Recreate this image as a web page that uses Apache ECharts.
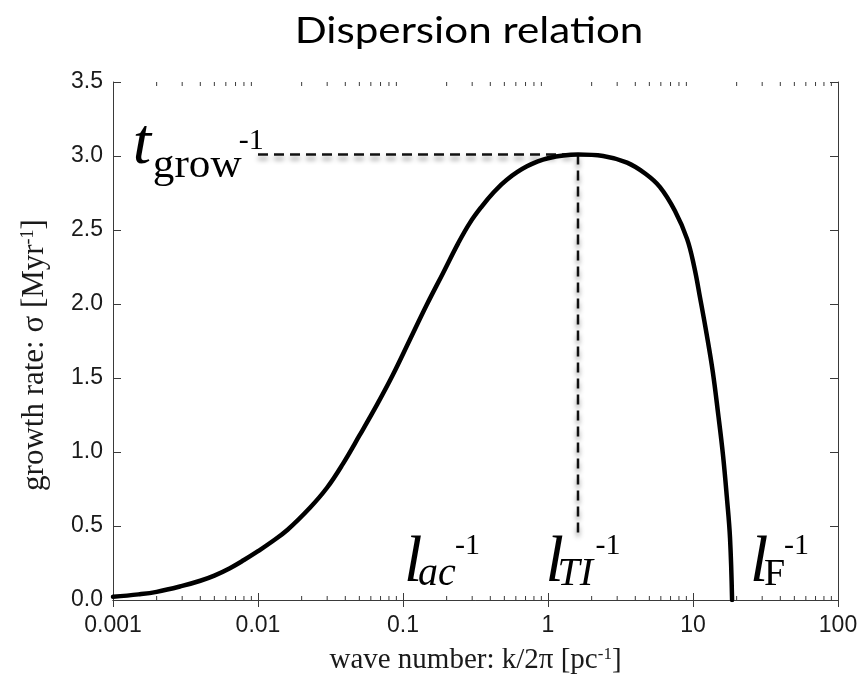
<!DOCTYPE html>
<html>
<head>
<meta charset="utf-8">
<script src="https://cdn.jsdelivr.net/npm/echarts@6/dist/echarts.min.js"></script>
<style>
  html, body { margin: 0; padding: 0; background: #ffffff; }
  #chart { width: 866px; height: 680px; }
</style>
</head>
<body>
<div id="chart"></div>
<script>
// Chart text
const titleText = 'Dispersion relation';

// Axis ticks
const xTickValues = [0.001, 0.01, 0.1, 1, 10, 100];
const xTickLabels = ['0.001', '0.01', '0.1', '1', '10', '100'];
const yTickValues = [0, 0.5, 1, 1.5, 2, 2.5, 3, 3.5];
const yTickLabels = ['0.0', '0.5', '1.0', '1.5', '2.0', '2.5', '3.0', '3.5'];

// Dispersion curve: wave number k/2π [pc^-1] and growth rate σ [Myr^-1]
const waveNumber = [
  0.001, 0.0015, 0.002, 0.003, 0.004, 0.005, 0.0064, 0.008, 0.01, 0.0121,
  0.016, 0.0229, 0.03, 0.0385, 0.05, 0.0662, 0.085, 0.1117, 0.145, 0.189,
  0.24, 0.29, 0.35, 0.418, 0.52, 0.716, 1.0, 1.61, 2.4, 3.51,
  4.7, 5.92, 7.5, 9.1, 10.2, 11.2, 12.4, 13.7, 14.9, 16.1,
  17.1, 18.0, 18.6
];
const growthRate = [
  0.022, 0.038, 0.055, 0.095, 0.13, 0.165, 0.215, 0.27, 0.33, 0.385,
  0.475, 0.625, 0.76, 0.92, 1.11, 1.32, 1.52, 1.76, 1.99, 2.21,
  2.41, 2.55, 2.66, 2.75, 2.84, 2.93, 2.985, 3.01, 3.0, 2.955,
  2.88, 2.79, 2.63, 2.44, 2.25, 2.04, 1.80, 1.54, 1.26, 0.98,
  0.70, 0.42, 0.0
];

// Fastest-growing mode and its guide lines
const peakWaveNumber = 1.61;
const peakRate = 3.01;
const guideStartK = 0.01;
const guideEndRate = 0.42;

// Minor ticks of the log axis (2..9 within each decade)
const minorTickValues = [];
for (let e = -3; e <= 1; e++) {
  for (let m = 2; m <= 9; m++) minorTickValues.push(+(m * Math.pow(10, e)).toPrecision(3));
}

const serif = '"Liberation Serif", "Times New Roman", serif';
const sans = '"Liberation Sans", Arial, sans-serif';
const axisColor = '#3a3a3a';

const chart = echarts.init(document.getElementById('chart'), null, { renderer: 'canvas' });

const curveData = waveNumber.map((k, i) => [k, growthRate[i]]);

function xLabel(v) {
  const i = xTickValues.findIndex(t => Math.abs(Math.log10(t) - Math.log10(v)) < 1e-6);
  return i >= 0 ? xTickLabels[i] : '';
}
function yLabel(v) {
  const i = yTickValues.findIndex(t => Math.abs(t - v) < 1e-6);
  return i >= 0 ? yTickLabels[i] : '';
}

function nameRich(size) {
  return {
    a: { fontFamily: serif, fontSize: size, color: '#1a1a1a' },
    s: { fontFamily: serif, fontSize: Math.round(size * 0.57), color: '#1a1a1a', verticalAlign: 'top' }
  };
}

const option = {
  backgroundColor: '#ffffff',
  animation: false,
  grid: { left: 113, right: 28, top: 82, bottom: 78, containLabel: false },
  xAxis: [
    {
      type: 'log', logBase: 10, min: 0.001, max: 100, position: 'bottom',
      axisLine: { show: true, lineStyle: { color: axisColor, width: 1 } },
      axisTick: { show: true, inside: true, length: 7, lineStyle: { color: axisColor } },
      axisLabel: { formatter: xLabel, fontFamily: sans, fontSize: 23, color: '#1a1a1a', margin: 14 },
      splitLine: { show: false },
      name: '{a|wave number: k/2π [pc}{s|-1}{a|]}',
      nameLocation: 'middle', nameGap: 46,
      nameTextStyle: { rich: nameRich(29) }
    },
    {
      type: 'log', logBase: 10, min: 0.001, max: 100, position: 'top',
      axisLine: { show: true, lineStyle: { color: axisColor, width: 1 } },
      axisTick: { show: true, inside: true, length: 7, lineStyle: { color: axisColor } },
      axisLabel: { show: false },
      splitLine: { show: false }
    }
  ],
  yAxis: [
    {
      type: 'value', min: 0, max: 3.5, interval: 0.5, position: 'left',
      axisLine: { show: true, lineStyle: { color: axisColor, width: 1 } },
      axisTick: { show: true, inside: true, length: 8, lineStyle: { color: axisColor } },
      axisLabel: { formatter: yLabel, fontFamily: sans, fontSize: 23, color: '#1a1a1a', margin: 10 },
      splitLine: { show: false },
      name: '{a|growth rate: σ [Myr}{s|-1}{a|]}',
      nameLocation: 'middle', nameGap: 63, nameRotate: 90,
      nameTextStyle: { rich: nameRich(31), padding: [0, 28, 0, 0] }
    },
    {
      type: 'value', min: 0, max: 3.5, interval: 0.5, position: 'right',
      axisLine: { show: true, lineStyle: { color: axisColor, width: 1 } },
      axisTick: { show: true, inside: true, length: 8, lineStyle: { color: axisColor } },
      axisLabel: { show: false },
      splitLine: { show: false }
    }
  ],
  series: [
    {
      name: 'minor ticks',
      type: 'custom',
      xAxisIndex: 0, yAxisIndex: 0,
      silent: true, clip: false, z: 1,
      data: minorTickValues.map(v => [v, 0]),
      renderItem(params, api) {
        const v = api.value(0);
        const b = api.coord([v, 0]);
        const t = api.coord([v, 3.5]);
        const st = { stroke: axisColor, lineWidth: 1 };
        return {
          type: 'group',
          children: [
            { type: 'line', shape: { x1: b[0], y1: b[1], x2: b[0], y2: b[1] - 4 }, style: st },
            { type: 'line', shape: { x1: t[0], y1: t[1], x2: t[0], y2: t[1] + 4 }, style: st }
          ]
        };
      }
    },
    {
      name: 'peak rate guide',
      type: 'line',
      xAxisIndex: 0, yAxisIndex: 0,
      data: [[guideStartK, peakRate], [peakWaveNumber, peakRate]],
      showSymbol: false, silent: true, z: 2,
      lineStyle: {
        color: '#111', width: 2.5, type: [10, 6],
        shadowColor: 'rgba(0,0,0,0.45)', shadowBlur: 5, shadowOffsetY: 4
      }
    },
    {
      name: 'peak wave number guide',
      type: 'line',
      xAxisIndex: 0, yAxisIndex: 0,
      data: [[peakWaveNumber, peakRate], [peakWaveNumber, guideEndRate]],
      showSymbol: false, silent: true, z: 2,
      lineStyle: {
        color: '#111', width: 2.5, type: [10, 6],
        shadowColor: 'rgba(0,0,0,0.45)', shadowBlur: 5, shadowOffsetY: 4
      }
    },
    {
      name: 'σ(k)',
      type: 'line',
      xAxisIndex: 0, yAxisIndex: 0,
      data: curveData,
      showSymbol: false, smooth: 0.4, z: 5,
      lineStyle: { color: '#000', width: 4.5, cap: 'round', join: 'round' }
    }
  ]
};

chart.setOption(option);

// Annotations: main letter + subscript + superscript, anchored at a point in data space
const annotations = [
  { k: 0.00137, s: 2.92, parts: [
    { text: 't', size: 66, italic: true, dx: 0, dy: 0 },
    { text: 'grow', size: 40, italic: false, dx: 20, dy: 12, sx: 1.08 },
    { text: '-1', size: 30, italic: false, dx: 106, dy: -17 }
  ] },
  { k: 0.1016, s: 0.10, parts: [
    { text: 'l', size: 66, italic: true, dx: 0, dy: 0 },
    { text: 'ac', size: 40, italic: true, dx: 14, dy: 2 },
    { text: '-1', size: 30, italic: false, dx: 51, dy: -29 }
  ] },
  { k: 0.96, s: 0.10, parts: [
    { text: 'l', size: 66, italic: true, dx: 0, dy: 0 },
    { text: 'TI', size: 40, italic: true, dx: 12, dy: 2 },
    { text: '-1', size: 30, italic: false, dx: 50, dy: -29 }
  ] },
  { k: 24.7, s: 0.10, parts: [
    { text: 'l', size: 66, italic: true, dx: 0, dy: 0 },
    { text: 'F', size: 38, italic: false, dx: 14, dy: 2 },
    { text: '-1', size: 30, italic: false, dx: 34, dy: -29 }
  ] }
];

const graphics = [
  {
    type: 'text',
    x: 469, y: 31,
    scaleX: 1.14,
    silent: true,
    style: {
      text: titleText,
      font: '37px Lato, "Open Sans", sans-serif',
      fill: '#000',
      align: 'center',
      verticalAlign: 'middle'
    }
  }
];
annotations.forEach(a => {
  const p = chart.convertToPixel({ xAxisIndex: 0, yAxisIndex: 0 }, [a.k, a.s]);
  a.parts.forEach(part => {
    graphics.push({
      type: 'text',
      x: p[0] + part.dx,
      y: p[1] + part.dy - 0.33 * part.size,
      scaleX: part.sx || 1,
      silent: true,
      z: 10,
      style: {
        text: part.text,
        font: (part.italic ? 'italic ' : '') + part.size + 'px ' + serif,
        fill: '#000',
        align: 'left',
        verticalAlign: 'middle'
      }
    });
  });
});
chart.setOption({ graphic: graphics });
</script>
</body>
</html>
